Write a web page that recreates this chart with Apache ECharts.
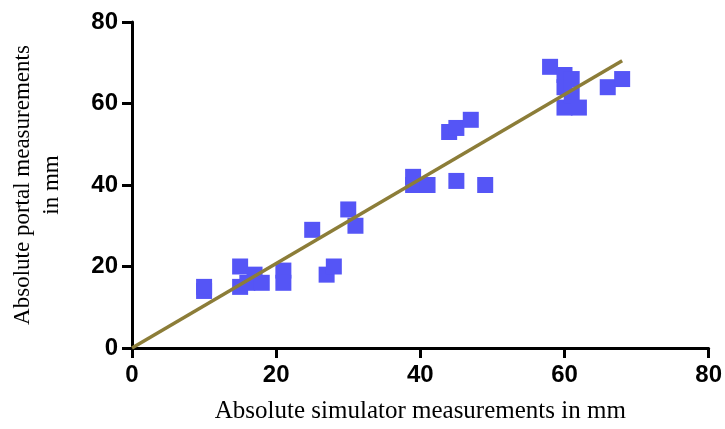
<!DOCTYPE html>
<html>
<head>
<meta charset="utf-8">
<script src="https://cdn.jsdelivr.net/npm/echarts@6/dist/echarts.min.js"></script>
<style>
  html, body { margin: 0; padding: 0; background: #fff; }
  #chart { width: 725px; height: 429px; }
</style>
</head>
<body>
<div id="chart"></div>
<script>
// Paired measurements (mm): simulator vs portal
const simulatorMm = [10, 10, 15, 15, 16, 17, 18, 21, 21, 25, 27, 28, 30, 31, 39, 39, 41, 44, 45, 45, 47, 49, 58, 60, 60, 60, 61, 61, 62, 66, 68];
const portalMm    = [14, 15, 20, 15, 16, 18, 16, 19, 16, 29, 18, 20, 34, 30, 42, 40, 40, 53, 54, 41, 56, 40, 69, 67, 64, 59, 66, 62, 59, 64, 66];

// Fitted line through the origin
const fitX = [0, 68];
const fitY = [0, 70.5];

const axisTicks = [0, 20, 40, 60, 80];

const points = simulatorMm.map((x, i) => [x, portalMm[i]]);
const fitLine = fitX.map((x, i) => [x, fitY[i]]);

const tickFont = { fontFamily: 'Liberation Sans, Arial, sans-serif', fontWeight: 'bold', fontSize: 24, color: '#000' };
const titleFont = { fontFamily: 'Liberation Serif, Times New Roman, serif', color: '#000' };

const chart = echarts.init(document.getElementById('chart'), null, { renderer: 'canvas' });
chart.setOption({
  animation: false,
  backgroundColor: '#fff',
  grid: { left: 132, right: 16, top: 22, bottom: 75, containLabel: false },
  xAxis: {
    type: 'value',
    min: axisTicks[0], max: axisTicks[axisTicks.length - 1], interval: 20,
    name: 'Absolute simulator measurements in mm',
    nameLocation: 'middle', nameGap: 51,
    nameTextStyle: Object.assign({ fontSize: 25 }, titleFont),
    axisLine: { show: true, lineStyle: { color: '#000', width: 3 } },
    axisTick: { show: true, length: 10, lineStyle: { color: '#000', width: 3 } },
    axisLabel: Object.assign({ margin: 15 }, tickFont),
    splitLine: { show: false }
  },
  yAxis: {
    type: 'value',
    min: axisTicks[0], max: axisTicks[axisTicks.length - 1], interval: 20,
    name: 'Absolute portal measurements\nin mm',
    nameLocation: 'middle', nameGap: 66, nameRotate: 90,
    nameTextStyle: Object.assign({ fontSize: 23, lineHeight: 29 }, titleFont),
    axisLine: { show: true, lineStyle: { color: '#000', width: 3 } },
    axisTick: { show: true, length: 10, lineStyle: { color: '#000', width: 3 } },
    axisLabel: Object.assign({ margin: 14 }, tickFont),
    splitLine: { show: false }
  },
  series: [
    {
      type: 'scatter',
      data: points,
      symbol: 'rect',
      symbolSize: 16,
      itemStyle: { color: '#5555F6', opacity: 1 },
      z: 2
    },
    {
      type: 'line',
      data: fitLine,
      symbol: 'none',
      lineStyle: { color: '#8C7D38', width: 3.5 },
      z: 3
    }
  ]
});
</script>
</body>
</html>
